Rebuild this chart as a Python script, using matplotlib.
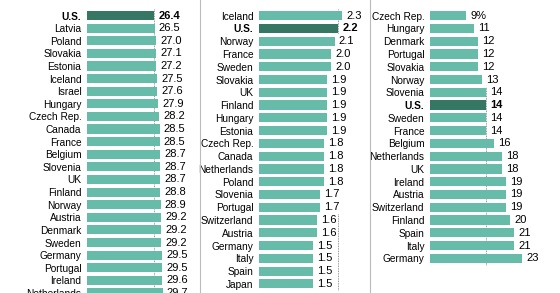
import matplotlib
matplotlib.use("Agg")
import matplotlib.pyplot as plt
from matplotlib.lines import Line2D

plt.rcParams['font.family'] = ['Liberation Sans', 'DejaVu Sans']

# panel 1
countries_1 = ["U.S.", "Latvia", "Poland", "Slovakia", "Estonia", "Iceland", "Israel",
               "Hungary", "Czech Rep.", "Canada", "France", "Belgium", "Slovenia", "UK",
               "Finland", "Norway", "Austria", "Denmark", "Sweden", "Germany", "Portugal",
               "Ireland", "Netherlands"]
values_1 = [26.4, 26.5, 27.0, 27.1, 27.2, 27.5, 27.6, 27.9, 28.2, 28.5, 28.5, 28.7, 28.7,
            28.7, 28.8, 28.9, 29.2, 29.2, 29.2, 29.5, 29.5, 29.6, 29.7]
labels_1 = ["26.4", "26.5", "27.0", "27.1", "27.2", "27.5", "27.6", "27.9", "28.2", "28.5",
            "28.5", "28.7", "28.7", "28.7", "28.8", "28.9", "29.2", "29.2", "29.2", "29.5",
            "29.5", "29.6", "29.7"]

# panel 2
countries_2 = ["Iceland", "U.S.", "Norway", "France", "Sweden", "Slovakia", "UK", "Finland",
               "Hungary", "Estonia", "Czech Rep.", "Canada", "Netherlands", "Poland",
               "Slovenia", "Portugal", "Switzerland", "Austria", "Germany", "Italy", "Spain",
               "Japan"]
values_2 = [2.3, 2.2, 2.1, 2.0, 2.0, 1.9, 1.9, 1.9, 1.9, 1.9, 1.8, 1.8, 1.8, 1.8, 1.7, 1.7,
            1.6, 1.6, 1.5, 1.5, 1.5, 1.5]
labels_2 = ["%.1f" % v for v in values_2]

# panel 3
countries_3 = ["Czech Rep.", "Hungary", "Denmark", "Portugal", "Slovakia", "Norway",
               "Slovenia", "U.S.", "Sweden", "France", "Belgium", "Netherlands", "UK",
               "Ireland", "Austria", "Switzerland", "Finland", "Spain", "Italy", "Germany"]
values_3 = [9, 11, 12, 12, 12, 13, 14, 14, 14, 14, 16, 18, 18, 19, 19, 19, 20, 21, 21, 23]
labels_3 = ["9%"] + [str(v) for v in values_3[1:]]

LIGHT = "#66bba9"
DARK = "#357763"
W, H = 560, 293
ROW = 12.77
FIRST = 15.7

fig = plt.figure(figsize=(5.6, 2.93), dpi=100)

def panel(x0, x1, scale, countries, values, labels, us_value):
    ax = fig.add_axes([x0 / W, 0, (x1 - x0) / W, 1])
    n = len(countries)
    y = list(range(n))
    colors = [DARK if c == "U.S." else LIGHT for c in countries]
    ax.barh(y, values, height=0.72, color=colors, zorder=3)
    ax.set_xlim(0, (x1 - x0) / scale)
    ax.set_ylim((H - FIRST) / ROW, -FIRST / ROW)
    ax.set_yticks(y)
    ax.set_yticklabels(countries, fontsize=7.3)
    for t, c in zip(ax.get_yticklabels(), countries):
        if c == "U.S.":
            t.set_fontweight("bold")
    ax.tick_params(axis="y", length=0, pad=4)
    ax.set_xticks([])
    for s in ax.spines.values():
        s.set_visible(False)
    ax.plot([us_value, us_value], [-0.5, n - 0.5], color="#777777", lw=0.6,
            linestyle=(0, (1, 1)), zorder=1)
    for yi, v, lab, c in zip(y, values, labels, countries):
        ax.annotate(lab, (v, yi), xytext=(3, 0), textcoords="offset points",
                    va="center", ha="left", fontsize=8,
                    fontweight="bold" if c == "U.S." else "normal",
                    bbox=dict(boxstyle="square,pad=0.2", fc="white", ec="none"),
                    zorder=2)
    return ax

panel(87, 200, 2.55, countries_1, values_1, labels_1, 26.4)
panel(259, 370, 36.0, countries_2, values_2, labels_2, 2.2)
panel(430, 560, 4.0, countries_3, values_3, labels_3, 14)

for xp in (200, 370):
    fig.add_artist(Line2D([xp / W, xp / W], [0, 1], color="#bbbbbb", lw=0.8))

fig.savefig("out.png", dpi=100)
